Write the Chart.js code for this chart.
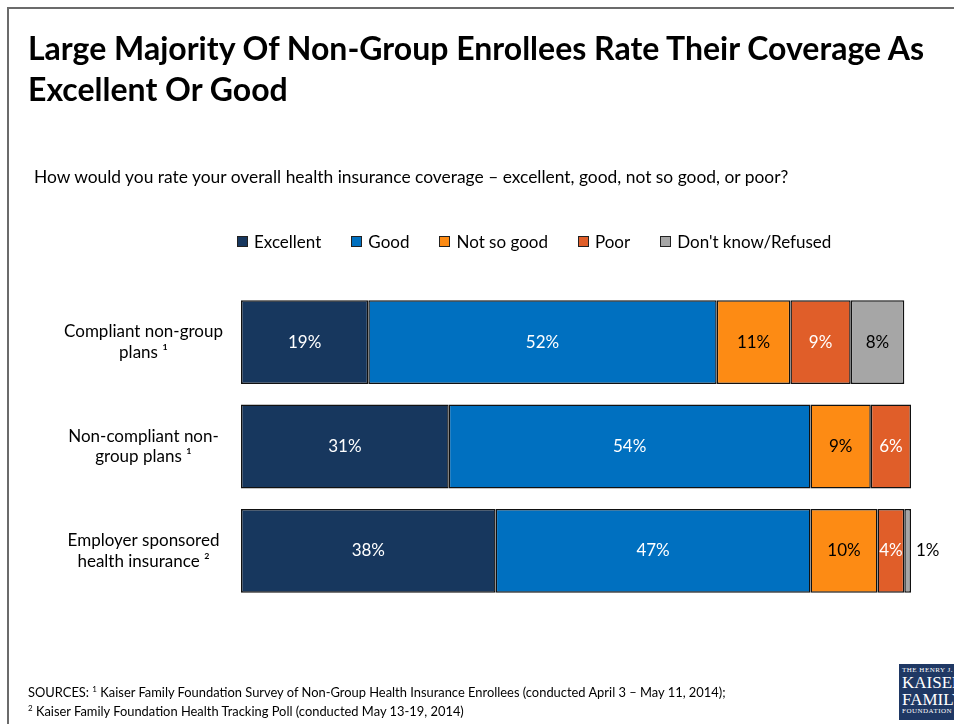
<!DOCTYPE html>
<html>
<head>
<meta charset="utf-8">
<script src="https://cdn.jsdelivr.net/npm/chart.js@4.4.1/dist/chart.umd.min.js"></script>
<style>
  body { margin: 0; background: #fff; font-family: Lato, "Open Sans", sans-serif; color: #000; }
  #page { position: relative; width: 954px; height: 724px; overflow: hidden; }
  #frame { position: absolute; left: 7px; top: 7px; width: 1000px; height: 1000px; border: 2px solid #6b6b6b; }
  #title { position: absolute; left: 28px; top: 27px; font-size: 32px; font-weight: bold; line-height: 41px; }
  #question { position: absolute; left: 34px; top: 166px; font-size: 17.4px; }
  #legend { position: absolute; left: 237px; top: 231px; display: flex; font-size: 17px; }
  #legend .item { display: flex; align-items: center; margin-right: 30px; }
  #legend .box { width: 9px; height: 9px; border: 1px solid #222; margin-right: 6px; }
  #sources { position: absolute; left: 28px; top: 681px; font-size: 12.9px; line-height: 16px; }
  #sources sup { font-size: 8px; }
  #logo { position: absolute; left: 899px; top: 664px; width: 70px; height: 56px; background: #1f3864; color: #fff;
          font-family: "Liberation Serif", "DejaVu Serif", serif; line-height: 1; padding: 3px 0 0 3px; box-sizing: border-box; }
  #logo .s { font-size: 7px; letter-spacing: 0.5px; }
  #logo .b { font-size: 17px; }
  #chartBox { position: absolute; left: 0; top: 0; width: 954px; height: 724px; }
</style>
</head>
<body>
<div id="page">
  <div id="frame"></div>
  <div id="chartBox"><canvas id="bars"></canvas></div>
  <div id="title">Large Majority Of Non-Group Enrollees Rate Their Coverage As<br>Excellent Or Good</div>
  <div id="question">How would you rate your overall health insurance coverage – excellent, good, not so good, or poor?</div>
  <div id="legend"></div>
  <div id="sources">SOURCES: <sup>1</sup> Kaiser Family Foundation Survey of Non-Group Health Insurance Enrollees (conducted April 3 – May 11, 2014);<br><sup>2</sup> Kaiser Family Foundation Health Tracking Poll (conducted May 13-19, 2014)</div>
  <div id="logo"><div class="s">THE HENRY J.</div><div class="b">KAISER</div><div class="b">FAMILY</div><div class="s">FOUNDATION</div></div>
</div>
<script>
var plans = [
  ['Compliant non-group', 'plans \u00b9'],
  ['Non-compliant non-', 'group plans \u00b9'],
  ['Employer sponsored', 'health insurance \u00b2']
];
var ratings = ['Excellent', 'Good', 'Not so good', 'Poor', "Don't know/Refused"];

var excellent = [19, 31, 38];
var good      = [52, 54, 47];
var notSoGood = [11, 9, 10];
var poor      = [9, 6, 4];
var dontKnow  = [8, 0, 1];

var colors     = ['#17375e', '#0070c0', '#fd8b14', '#e05e29', '#a6a6a6'];
var textColors = ['#ffffff', '#ffffff', '#000000', '#ffffff', '#000000'];

var series = [excellent, good, notSoGood, poor, dontKnow];

var datasets = series.map(function(values, i) {
    return {
        label: ratings[i],
        data: values,
        backgroundColor: colors[i],
        borderColor: '#111',
        borderWidth: 1.5,
        borderSkipped: false
    };
});

// percent labels in the middle of each segment, outside when it is too narrow
var segmentLabels = {
    id: 'segmentLabels',
    afterDatasetsDraw: function(chart) {
        var ctx = chart.ctx;
        ctx.save();
        ctx.font = '17px Lato';
        ctx.textBaseline = 'middle';
        chart.data.datasets.forEach(function(ds, i) {
            var meta = chart.getDatasetMeta(i);
            meta.data.forEach(function(bar, j) {
                var v = ds.data[j];
                if (!v) return;
                var txt = v + '%';
                var w = Math.abs(bar.x - bar.base);
                if (ctx.measureText(txt).width > w) {
                    ctx.fillStyle = '#000';
                    ctx.textAlign = 'left';
                    ctx.fillText(txt, bar.x + 5, bar.y);
                } else {
                    ctx.fillStyle = textColors[i];
                    ctx.textAlign = 'center';
                    ctx.fillText(txt, (bar.x + bar.base) / 2, bar.y);
                }
            });
        });
        ctx.restore();
    }
};

var chart = new Chart(document.getElementById('bars'), {
    type: 'bar',
    data: { labels: plans, datasets: datasets },
    plugins: [segmentLabels],
    options: {
        indexAxis: 'y',
        responsive: true,
        maintainAspectRatio: false,
        animation: false,
        layout: { padding: { top: 290, bottom: 121, left: 17, right: 43 } },
        plugins: {
            legend: { display: false },
            tooltip: { enabled: false }
        },
        datasets: { bar: { barPercentage: 0.804, categoryPercentage: 1 } },
        scales: {
            x: { stacked: true, min: 0, max: 100, display: false },
            y: {
                stacked: true,
                grid: { display: false },
                border: { display: false },
                afterFit: function(scale) { scale.width = 224; },
                ticks: {
                    crossAlign: 'center',
                    padding: 10,
                    color: '#000',
                    font: { family: 'Lato', size: 17 }
                }
            }
        }
    }
});

// legend built from the chart's datasets
var legend = document.getElementById('legend');
chart.data.datasets.forEach(function(ds) {
    var item = document.createElement('div');
    item.className = 'item';
    var box = document.createElement('span');
    box.className = 'box';
    box.style.background = ds.backgroundColor;
    item.appendChild(box);
    item.appendChild(document.createTextNode(ds.label));
    legend.appendChild(item);
});
</script>
</body>
</html>
